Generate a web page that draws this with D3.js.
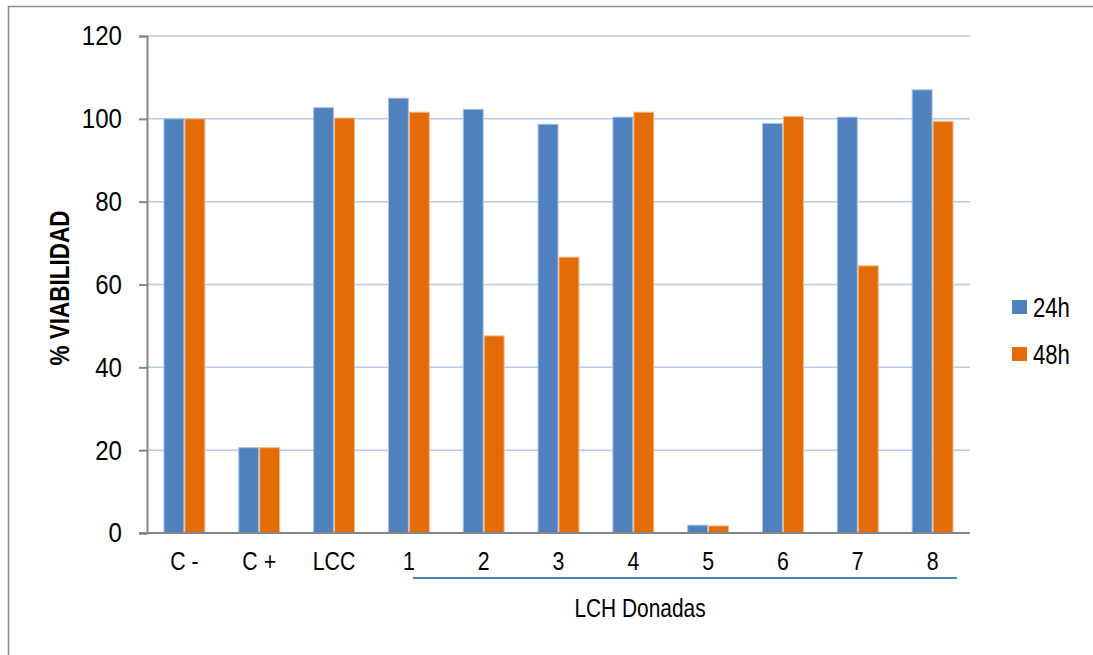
<!DOCTYPE html>
<html>
<head>
<meta charset="utf-8">
<script src="https://cdn.jsdelivr.net/npm/d3@7"></script>
<style>
  html, body { margin: 0; padding: 0; background: #fff; }
  svg { display: block; }
  text { font-family: "Liberation Sans", Arial, sans-serif; fill: #000; }
</style>
</head>
<body>
<svg id="chart" width="1093" height="655"></svg>
<script>
// Cell viability (%) at 24 h and 48 h per sample
const categories = ["C -", "C +", "LCC", "1", "2", "3", "4", "5", "6", "7", "8"];
const series = ["24h", "48h"];
const values24h = [100, 20.6, 102.7, 105.0, 102.3, 98.7, 100.4, 1.9, 98.9, 100.4, 107.0];
const values48h = [100, 20.6, 100.2, 101.6, 47.6, 66.6, 101.6, 1.7, 100.6, 64.5, 99.4];
const yTicks = [0, 20, 40, 60, 80, 100, 120];
const colors = ["#4f81bd", "#e36c09"];
const strokes = ["#a9c2e4", "#f3b889"];

const svg = d3.select("#chart");
const W = 1093, H = 655;
const NARROW = 0.82; // condensed face: Liberation Sans squeezed horizontally

// squeeze a text selection horizontally around its own x position
function narrow(sel, k = NARROW) {
  sel.each(function () {
    const t = d3.select(this);
    const x0 = +(t.attr("x") || 0);
    t.attr("x", 0).attr("transform", `translate(${x0},0) scale(${k},1)`);
  });
}

// outer frame
svg.append("rect")
  .attr("x", 8.5).attr("y", 6.5)
  .attr("width", W + 20).attr("height", H + 20)
  .attr("fill", "none").attr("stroke", "#8c8c8c").attr("stroke-width", 1.5);

const plot = { left: 147, right: 970, top: 36, bottom: 533 };

const x = d3.scaleBand()
  .domain(categories)
  .range([plot.left, plot.right])
  .paddingInner(0.44)
  .paddingOuter(0.22);

const xs = d3.scaleBand()
  .domain(series)
  .range([0, x.bandwidth()]);

const y = d3.scaleLinear()
  .domain([0, 120])
  .range([plot.bottom, plot.top]);

// gridlines
svg.append("g")
  .selectAll("line")
  .data(yTicks.filter(d => d > 0))
  .join("line")
  .attr("x1", plot.left).attr("x2", plot.right)
  .attr("y1", d => y(d)).attr("y2", d => y(d))
  .attr("stroke", "#b7cae8").attr("stroke-width", 1.5);

// bars
const rows = categories.map((c, i) => ({ c, v: [values24h[i], values48h[i]] }));
const groups = svg.append("g")
  .selectAll("g")
  .data(rows)
  .join("g")
  .attr("transform", d => `translate(${x(d.c)},0)`);

groups.selectAll("rect")
  .data(d => series.map((s, k) => ({ s, k, v: d.v[k] })))
  .join("rect")
  .attr("x", d => xs(d.s) + 0.5)
  .attr("width", xs.bandwidth() - 1)
  .attr("y", d => y(d.v))
  .attr("height", d => y(0) - y(d.v))
  .attr("fill", d => colors[d.k])
  .attr("stroke", d => strokes[d.k])
  .attr("stroke-width", 1);

// y axis
const yAxis = svg.append("g")
  .attr("transform", `translate(${plot.left},0)`)
  .call(d3.axisLeft(y).tickValues(yTicks).tickSize(8).tickPadding(17).tickFormat(d3.format("d")));
yAxis.select(".domain").attr("stroke", "#868686").attr("stroke-width", 2);
yAxis.selectAll(".tick line").attr("stroke", "#868686").attr("stroke-width", 2);
yAxis.selectAll(".tick text")
  .attr("font-size", 28)
  .attr("font-family", "'Liberation Sans', Arial, sans-serif")
  .attr("fill", "#000")
  .call(narrow, 0.86);

// x axis
const xAxis = svg.append("g")
  .attr("transform", `translate(0,${plot.bottom})`)
  .call(d3.axisBottom(x).tickSize(0).tickPadding(19));
xAxis.select(".domain").attr("stroke", "#868686").attr("stroke-width", 2)
  .attr("d", `M${plot.left - 8},0H${plot.right}`);
xAxis.selectAll(".tick text")
  .attr("font-size", 26)
  .attr("font-family", "'Liberation Sans', Arial, sans-serif")
  .attr("fill", "#000")
  .call(narrow);

// group bracket for donor samples
svg.append("line")
  .attr("x1", 413).attr("x2", 957)
  .attr("y1", 578).attr("y2", 578)
  .attr("stroke", "#4f81bd").attr("stroke-width", 2);

svg.append("text")
  .attr("x", 640).attr("y", 617)
  .attr("text-anchor", "middle")
  .attr("font-size", 25.5)
  .text("LCH Donadas")
  .call(narrow);

// y axis title
svg.append("text")
  .attr("transform", `translate(69,288) rotate(-90) scale(${NARROW},1)`)
  .attr("text-anchor", "middle")
  .attr("font-size", 27.5)
  .attr("font-weight", "bold")
  .text("% VIABILIDAD");

// legend
const legend = svg.append("g")
  .selectAll("g")
  .data(series)
  .join("g")
  .attr("transform", (d, i) => `translate(1012,${300 + i * 47})`);
legend.append("rect")
  .attr("width", 15).attr("height", 14)
  .attr("fill", (d, i) => colors[i]);
legend.append("text")
  .attr("x", 21).attr("y", 16.5)
  .attr("font-size", 27)
  .text(d => d)
  .call(narrow);
</script>
</body>
</html>
